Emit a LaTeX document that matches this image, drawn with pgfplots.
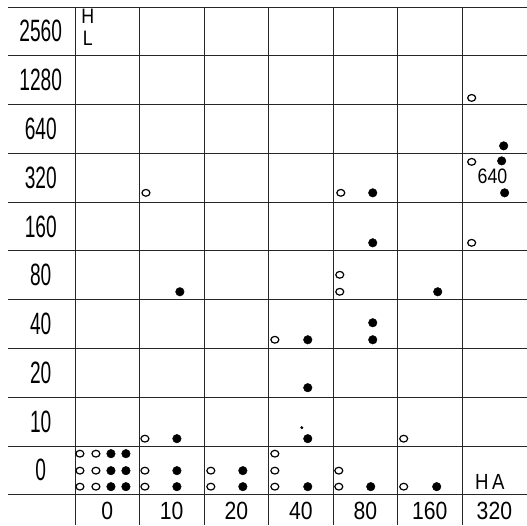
\documentclass[border=0pt]{standalone}
\usepackage{fontspec}
\setmainfont{Liberation Sans}
\newfontfamily\hand[FakeStretch=0.62]{Liberation Sans}
\newfontfamily\handw[FakeStretch=0.85]{Liberation Sans}
\usepackage{pgfplots}
\pgfplotsset{compat=1.18}
\begin{document}
\begin{tikzpicture}
\begin{axis}[
  width=527bp, height=525bp, scale only axis,
  xmin=-1.1615, xmax=7, ymin=-0.615, ymax=10.143,
  hide axis, clip=false,
]
\path (rel axis cs:0,0) rectangle (rel axis cs:1,1);
% grid
\foreach \j in {0,...,10} {
  \edef\temp{\noexpand\draw[line width=0.7pt, black!85] (axis cs:-1.04,\j) -- (axis cs:7,\j);}
  \temp
}
\foreach \i in {0,...,6} {
  \edef\temp{\noexpand\draw[line width=0.7pt, black!85] (axis cs:\i,-0.615) -- (axis cs:\i,10);}
  \temp
}
% open circles
\addplot[only marks, mark=o, mark size=4pt, mark options={line width=1.2pt, black, yscale=0.85}] coordinates {
(0.077,0.840) (0.325,0.840) (0.077,0.492) (0.325,0.492) (0.077,0.164) (0.325,0.164)
(1.084,0.492) (1.084,0.164) (1.084,1.148) (1.100,6.189)
(2.106,0.492) (2.106,0.164)
(3.098,3.176) (3.098,0.840) (3.098,0.492) (3.098,0.164)
(4.120,6.189) (4.104,4.508) (4.104,4.160) (4.089,0.492) (4.089,0.164)
(5.095,1.148) (5.095,0.164)
(6.148,8.135) (6.148,6.824) (6.148,5.164)
};
% filled dots
\addplot[only marks, mark=*, mark size=4.3pt, black] coordinates {
(0.558,0.840) (0.790,0.840) (0.558,0.492) (0.790,0.492) (0.558,0.164) (0.790,0.164)
(1.580,0.492) (1.580,0.164) (1.580,1.148) (1.626,4.160)
(2.602,0.492) (2.602,0.164)
(3.608,3.176) (3.608,2.193) (3.608,1.148) (3.608,0.164)
(4.615,6.189) (4.615,5.164) (4.615,3.525) (4.615,3.176) (4.584,0.164)
(5.622,4.160) (5.606,0.164)
(6.644,7.152) (6.613,6.844) (6.659,6.189)
};
% small dot
\addplot[only marks, mark=*, mark size=1.3pt, black] coordinates {(3.516,1.373)};
% y labels
\foreach \lab [count=\k from 0] in {0,10,20,40,80,160,320,640,1280,2560} {
  \edef\temp{\noexpand\node[font=\noexpand\hand\noexpand\fontsize{31}{31}\noexpand\selectfont] at (axis cs:-0.53,\k.5) {\lab};}
  \temp
}
% x labels
\foreach \lab [count=\k from 0] in {0,10,20,40,80,160,320} {
  \edef\temp{\noexpand\node[font=\noexpand\handw\noexpand\fontsize{25}{25}\noexpand\selectfont] at (axis cs:\k.5,-0.33) {\lab};}
  \temp
}
\node[font=\handw\fontsize{22}{22}\selectfont] at (axis cs:6.43,0.27) {H\,A};
\node[font=\handw\fontsize{21}{21}\selectfont] at (axis cs:6.47,6.52) {640};
\node[font=\handw\fontsize{21}{21}\selectfont] at (axis cs:0.2,9.8) {H};
\node[font=\handw\fontsize{21}{21}\selectfont] at (axis cs:0.2,9.36) {L};
\end{axis}
\end{tikzpicture}
\end{document}
